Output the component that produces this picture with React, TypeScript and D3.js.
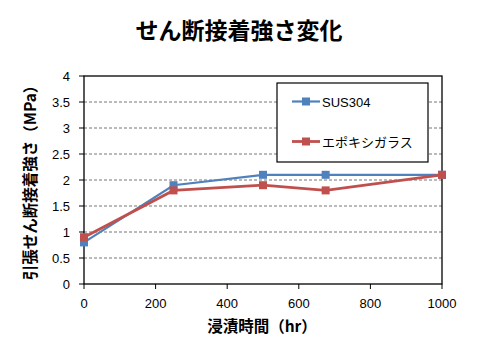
import React from "react";
import * as d3 from "d3";

const hours = [0, 250, 500, 675, 1000];
const sus304 = [0.8, 1.9, 2.1, 2.1, 2.1];
const epoxy = [0.9, 1.8, 1.9, 1.8, 2.1];
const seriesNames = ["SUS304", "エポキシガラス"];
const seriesColors = ["#4F81BD", "#C0504D"];
const yTicks = [0, 0.5, 1, 1.5, 2, 2.5, 3, 3.5, 4];
const xTicks = [0, 200, 400, 600, 800, 1000];
const title = "せん断接着強さ変化";
const yTitle = "引張せん断接着強さ（MPa）";
const xTitle = "浸漬時間（hr）";

const W = 479;
const H = 351;
const L = 84, R = 442, T = 76, B = 284;

export default function App() {
  const x = d3.scaleLinear().domain([0, 1000]).range([L, R]);
  const y = d3.scaleLinear().domain([0, 4]).range([B, T]);
  const line = d3
    .line<number>()
    .x((_, i) => x(hours[i]))
    .y((d) => y(d));
  const series = [sus304, epoxy];
  const tickFont = "'Liberation Sans', 'DejaVu Sans', sans-serif";
  const cjkFont = "'Noto Sans CJK JP', sans-serif";
  return (
    <svg
      width={W}
      height={H}
      style={{ position: "absolute", left: 0, top: 0, background: "#fff" }}
    >
      <rect x={0} y={0} width={W} height={H} fill="#fff" />
      <text
        x={239}
        y={39}
        textAnchor="middle"
        fontFamily={cjkFont}
        fontWeight="bold"
        fontSize={23}
        fill="#000"
      >
        {title}
      </text>
      {yTicks.slice(1, -1).map((t) => (
        <line
          key={"g" + t}
          x1={L}
          x2={R}
          y1={y(t)}
          y2={y(t)}
          stroke="#777"
          strokeWidth={1}
          strokeDasharray="3,2"
        />
      ))}
      <rect x={L} y={T} width={R - L} height={B - T} fill="none" stroke="#000" strokeWidth={1.3} />
      {yTicks.map((t) => (
        <g key={"y" + t}>
          <line x1={L - 5} x2={L} y1={y(t)} y2={y(t)} stroke="#000" />
          <text
            x={70}
            y={y(t) + 4.5}
            textAnchor="end"
            fontFamily={tickFont}
            fontSize={13}
            fill="#000"
          >
            {t}
          </text>
        </g>
      ))}
      {xTicks.map((t) => (
        <g key={"x" + t}>
          <line x1={x(t)} x2={x(t)} y1={B} y2={B + 5} stroke="#000" />
          <text
            x={x(t)}
            y={308}
            textAnchor="middle"
            fontFamily={tickFont}
            fontSize={13}
            fill="#000"
          >
            {t}
          </text>
        </g>
      ))}
      {series.map((s, si) => (
        <g key={"s" + si}>
          <path
            d={line(s) || ""}
            fill="none"
            stroke={seriesColors[si]}
            strokeWidth={si === 0 ? 2.2 : 2.8}
          />
          {s.map((v, i) => (
            <rect
              key={i}
              x={x(hours[i]) - 4}
              y={y(v) - 4}
              width={8}
              height={8}
              fill={seriesColors[si]}
            />
          ))}
        </g>
      ))}
      <rect x={277} y={83} width={151} height={79} fill="#fff" stroke="#000" strokeWidth={1.2} />
      {seriesNames.map((n, i) => {
        const ly = i === 0 ? 101.5 : 141.5;
        return (
          <g key={"l" + i}>
            <line
              x1={292}
              x2={320}
              y1={ly}
              y2={ly}
              stroke={seriesColors[i]}
              strokeWidth={i === 0 ? 2.2 : 2.8}
            />
            <rect x={302} y={ly - 4} width={8} height={8} fill={seriesColors[i]} />
            <text
              x={322}
              y={ly + 5}
              fontFamily={i === 0 ? tickFont : cjkFont}
              fontSize={13}
              fill="#000"
            >
              {n}
            </text>
          </g>
        );
      })}
      <text
        transform={`translate(36,179) rotate(-90)`}
        textAnchor="middle"
        fontFamily={cjkFont}
        fontWeight="bold"
        fontSize={15.5}
        fill="#000"
      >
        {yTitle}
      </text>
      <text
        x={262}
        y={332}
        textAnchor="middle"
        fontFamily={cjkFont}
        fontWeight="bold"
        fontSize={15.5}
        fill="#000"
      >
        {xTitle}
      </text>
    </svg>
  );
}
